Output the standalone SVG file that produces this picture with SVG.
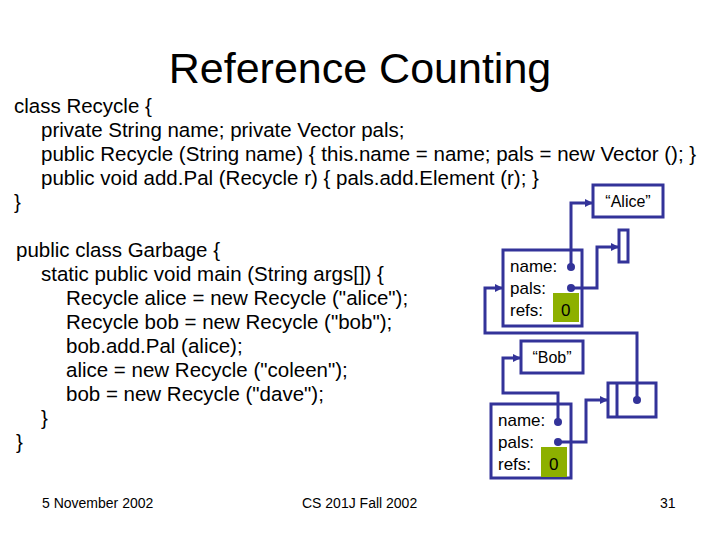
<svg xmlns="http://www.w3.org/2000/svg" width="720" height="540" viewBox="0 0 720 540">
<defs><marker id="a" markerWidth="8" markerHeight="8" refX="7" refY="4" orient="auto" markerUnits="userSpaceOnUse"><path d="M0,0L8,4L0,8z" fill="#333399"/></marker></defs>
<style>
text{font-family:"Liberation Sans",Arial,sans-serif;fill:#000}
.c{font-size:20.5px}
.b{fill:#fff;stroke:#333399;stroke-width:3}
.l{fill:none;stroke:#333399;stroke-width:3;marker-end:url(#a)}
.d{fill:#333399}
.g{fill:#8db000}
.f{font-size:14px}
.t{font-size:17px}
</style>
<rect width="720" height="540" fill="#fff"/>
<text x="360" y="83" font-size="43" text-anchor="middle">Reference Counting</text>
<g class="c">
<text x="14" y="113">class Recycle {</text>
<text x="41" y="137">private String name; private Vector pals;</text>
<text x="41" y="161">public Recycle (String name) { this.name = name; pals = new Vector (); }</text>
<text x="41" y="185">public void add.Pal (Recycle r) {  pals.add.Element (r); }</text>
<text x="14" y="209">}</text>
<text x="16" y="257">public class Garbage {</text>
<text x="41" y="281">static public void main (String args[]) {</text>
<text x="66" y="305">Recycle alice = new Recycle ("alice");</text>
<text x="66" y="329">Recycle bob = new Recycle ("bob");</text>
<text x="66" y="353">bob.add.Pal (alice);</text>
<text x="66" y="377">alice = new Recycle ("coleen");</text>
<text x="66" y="401">bob = new Recycle ("dave");</text>
<text x="41" y="425">}</text>
<text x="16" y="449">}</text>
</g>
<g id="alice-str"><rect class="b" x="593" y="185" width="70" height="32"/><text x="628" y="207" font-size="16" text-anchor="middle">“Alice”</text></g>
<g id="alice-vec"><rect class="b" x="619" y="230" width="9" height="32"/></g>
<g id="alice-obj"><rect class="b" x="503" y="250" width="79" height="76"/><rect class="g" x="553" y="293" width="26" height="29"/>
<text class="t" x="510" y="272">name:</text><text class="t" x="510" y="294">pals:</text><text class="t" x="510" y="316">refs:</text><text class="t" x="561" y="316">0</text>
<circle class="d" cx="571" cy="267" r="4"/><circle class="d" cx="571" cy="288" r="4"/></g>
<g id="bob-str"><rect class="b" x="521" y="341" width="62" height="32"/><text x="552" y="363" font-size="16" text-anchor="middle">“Bob”</text></g>
<g id="bob-vec"><rect class="b" x="608" y="383" width="48" height="34"/><line x1="617" y1="383" x2="617" y2="417" stroke="#333399" stroke-width="3"/><circle class="d" cx="637" cy="400" r="4"/></g>
<g id="bob-obj"><rect class="b" x="491" y="404" width="80" height="74"/><rect class="g" x="541" y="447" width="26" height="30"/>
<text class="t" x="498" y="426">name:</text><text class="t" x="498" y="448">pals:</text><text class="t" x="498" y="470">refs:</text><text class="t" x="549" y="470">0</text>
<circle class="d" cx="558" cy="422" r="4"/><circle class="d" cx="558" cy="442" r="4"/></g>
<g id="connectors">
<path class="l" d="M571,267V203H592"/>
<path class="l" d="M571,288H597V247H618"/>
<path class="l" d="M637,400V333H485V288H502"/>
<path class="l" d="M558,422V393H503V358H520"/>
<path class="l" d="M558,442H586V400H607"/>
</g>
<text class="f" x="42" y="508">5 November 2002</text>
<text class="f" x="302" y="508">CS 201J Fall 2002</text>
<text class="f" x="660" y="508">31</text>
</svg>
